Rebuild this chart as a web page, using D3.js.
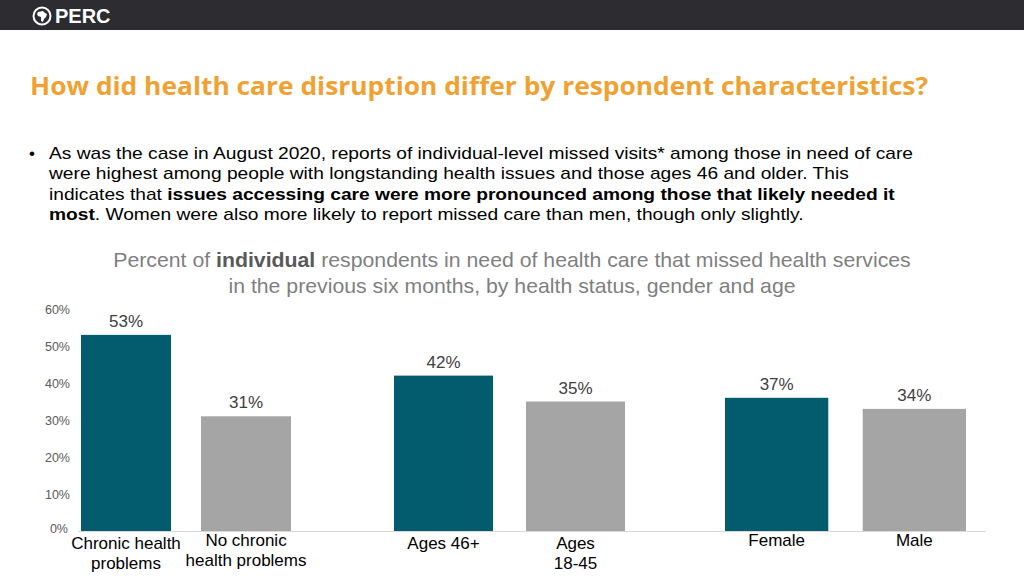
<!DOCTYPE html>
<html><head><meta charset="utf-8">
<script src="https://cdn.jsdelivr.net/npm/d3@7"></script>
<style>
html,body{margin:0;padding:0;background:#fff;}
svg{display:block;}
</style></head>
<body>
<svg id="chart" width="1024" height="576"></svg>
<script>
// ---- data ----
const groups = ["health", "age", "gender"];
const categories = ["Chronic health problems", "No chronic health problems", "Ages 46+", "Ages 18-45", "Female", "Male"];
const categoryGroup = ["health", "health", "age", "age", "gender", "gender"];
const categoryLines = [["Chronic health", "problems"], ["No chronic", "health problems"], ["Ages 46+"], ["Ages", "18-45"], ["Female"], ["Male"]];
const values = [53, 31, 42, 35, 36, 33];
const valueLabels = ["53%", "31%", "42%", "35%", "37%", "34%"];
const highlight = [true, false, true, false, true, false];
const yTicks = [0, 10, 20, 30, 40, 50, 60];

// ---- layout ----
const svg = d3.select("#chart");
const W = 1024, H = 576;
const teal = "#035c6d", gray = "#a5a5a5";

// header
svg.append("rect").attr("x",0).attr("y",0).attr("width",W).attr("height",30).attr("fill","#2c2c31");
const logo = svg.append("g").attr("transform","translate(42,16)");
logo.append("circle").attr("r",8.5).attr("fill","none").attr("stroke","#fff").attr("stroke-width",2);
logo.append("path").attr("d","M-4,-4 L1,-5 L3,-3 L5,-2 L4,1 L2,3 L1,6 L-1,5 L-1,1 L-4,0 L-5,-2 Z").attr("fill","#fff");
svg.append("text").attr("x",55).attr("y",23).attr("fill","#fff")
  .attr("font-family","Liberation Sans, Arial, sans-serif").attr("font-weight","bold").attr("font-size",20).text("PERC");

// title
svg.append("text").attr("x",30).attr("y",95).attr("fill","#EFA232")
  .attr("font-family","Open Sans, sans-serif").attr("font-weight","bold").attr("font-size",25)
  .attr("textLength",898).attr("lengthAdjust","spacingAndGlyphs")
  .text("How did health care disruption differ by respondent characteristics?");

// bullet paragraph
const bodyFont = "Liberation Sans, Arial, sans-serif";
svg.append("text").attr("x",29).attr("y",159).attr("font-family",bodyFont).attr("font-size",17).attr("fill","#000").text("•");
const para = [
  [{t:"As was the case in August 2020, reports of individual-level missed visits* among those in need of care"}],
  [{t:"were highest among people with longstanding health issues and those ages 46 and older. This"}],
  [{t:"indicates that "},{t:"issues accessing care were more pronounced among those that likely needed it",b:true}],
  [{t:"most",b:true},{t:". Women were also more likely to report missed care than men, though only slightly."}]
];
const paraG = svg.append("g").attr("transform","translate(49,159) scale(1.128,1)");
para.forEach((line,i)=>{
  const tx = paraG.append("text").attr("x",0).attr("y",i*20.5).attr("font-family",bodyFont).attr("font-size",17).attr("fill","#000");
  line.forEach(s=>tx.append("tspan").attr("font-weight",s.b?"bold":"normal").text(s.t));
});

// chart subtitle
const subG = svg.append("g").attr("transform","translate(512,0) scale(1.064,1)");
const sub1 = subG.append("text").attr("x",0).attr("y",267).attr("text-anchor","middle")
  .attr("font-family",bodyFont).attr("font-size",20).attr("fill","#7f7f7f");
sub1.append("tspan").text("Percent of ");
sub1.append("tspan").attr("font-weight","bold").attr("fill","#595959").text("individual");
sub1.append("tspan").text(" respondents in need of health care that missed health services");
subG.append("text").attr("x",0).attr("y",293).attr("text-anchor","middle")
  .attr("font-family",bodyFont).attr("font-size",20).attr("fill","#7f7f7f")
  .text("in the previous six months, by health status, gender and age");

// scales
const y = d3.scaleLinear().domain([0,60]).range([531,309]);
const groupRanges = {health:[81,291], age:[394,625], gender:[725,966]};
const xScales = {};
groups.forEach(g=>{
  xScales[g] = d3.scaleBand()
    .domain(categories.filter((c,i)=>categoryGroup[i]===g))
    .range(groupRanges[g]).paddingInner(0.25).paddingOuter(0);
});
const xPos = (c,i)=>xScales[categoryGroup[i]](c);
const bw = (i)=>xScales[categoryGroup[i]].bandwidth();

// y axis
const yAxis = d3.axisLeft(y).tickValues(yTicks).tickFormat(d=>d+"%").tickSize(0).tickPadding(0);
const ya = svg.append("g").attr("transform","translate(70,0)").call(yAxis);
ya.select(".domain").remove();
ya.selectAll("text").attr("font-family",bodyFont).attr("font-size",12.5).attr("fill","#595959");
ya.selectAll(".tick").filter(d=>d===0).select("text").attr("dx",-2).attr("dy","0.1em");

// baseline
svg.append("line").attr("x1",78).attr("x2",986).attr("y1",y(0)+0.5).attr("y2",y(0)+0.5).attr("stroke","#d9d9d9").attr("stroke-width",1);

// bars
svg.append("g").selectAll("rect").data(categories).join("rect")
  .attr("x",(c,i)=>xPos(c,i)).attr("width",(c,i)=>bw(i))
  .attr("y",(c,i)=>y(values[i])).attr("height",(c,i)=>y(0)-y(values[i]))
  .attr("fill",(c,i)=>highlight[i]?teal:gray);

// value labels
svg.append("g").selectAll("text").data(categories).join("text")
  .attr("x",(c,i)=>xPos(c,i)+bw(i)/2).attr("y",(c,i)=>y(values[i])-8)
  .attr("text-anchor","middle").attr("font-family",bodyFont).attr("font-size",17).attr("fill","#404040")
  .text((c,i)=>valueLabels[i]);

// category labels
const catG = svg.append("g").selectAll("text").data(categories).join("text")
  .attr("text-anchor","middle").attr("font-family",bodyFont).attr("font-size",17).attr("fill","#000")
  .attr("transform",(c,i)=>`translate(${xPos(c,i)+bw(i)/2},${(categoryLines[i].length===1 && categoryGroup[i]==="gender")||i===1 ? 546 : 549})`);
catG.each(function(c,i){
  const t = d3.select(this);
  categoryLines[i].forEach((l,j)=>t.append("tspan").attr("x",0).attr("y",j*20).text(l));
});
</script>
</body></html>
